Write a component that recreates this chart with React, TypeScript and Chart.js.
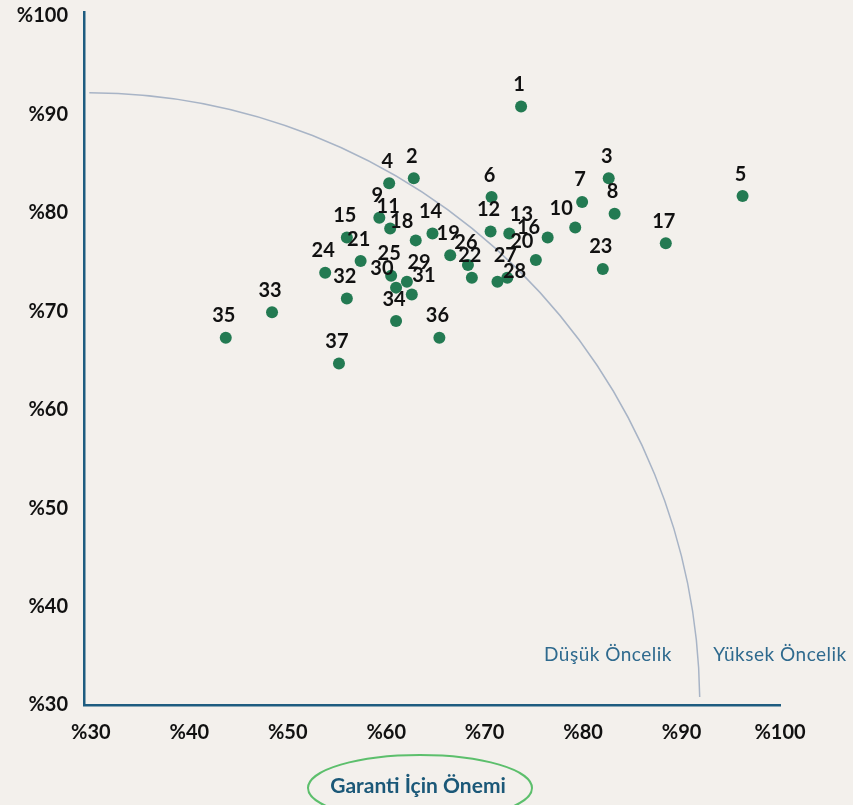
import React, { useEffect, useRef } from "react";
import { Chart, registerables } from "chart.js";

Chart.register(...registerables);

const pointLabels = [
  "1","2","3","4","5","6","7","8","9","10","11","12","13","14","15","16","17","18","19",
  "20","21","22","23","24","25","26","27","28","29","30","31","32","33","34","35","36","37",
];
const xValues = [
  73.7, 62.8, 82.6, 60.3, 96.2, 70.7, 79.9, 83.2, 59.3, 79.2, 60.4, 70.6, 72.5, 64.7, 56.0, 76.4, 88.4, 63.0, 66.5,
  75.2, 57.4, 68.7, 82.0, 53.8, 60.5, 68.3, 72.3, 71.3, 62.1, 61.0, 62.6, 56.0, 48.4, 61.0, 43.7, 65.4, 55.2,
];
const yValues = [
  90.8, 83.5, 83.5, 83.0, 81.7, 81.6, 81.1, 79.9, 79.5, 78.5, 78.4, 78.1, 77.9, 77.9, 77.5, 77.5, 76.9, 77.2, 75.7,
  75.2, 75.1, 73.4, 74.3, 73.9, 73.6, 74.7, 73.4, 73.0, 73.0, 72.4, 71.7, 71.3, 69.9, 69.0, 67.3, 67.3, 64.7,
];
const xTicks = [30, 40, 50, 60, 70, 80, 90, 100];
const yTicks = [30, 40, 50, 60, 70, 80, 90, 100];
const xTitle = "Garanti İçin Önemi";
const lowLabel = "Düşük Öncelik";
const highLabel = "Yüksek Öncelik";
const arcRadius = 62.2;

const BG = "#f3f0ec";
const AXIS = "#1e5c80";
const FONT = "Lato, 'Open Sans', sans-serif";

type Box = { x1: number; y1: number; x2: number; y2: number };
const overlap = (a: Box, b: Box) => {
  const w = Math.min(a.x2, b.x2) - Math.max(a.x1, b.x1);
  const h = Math.min(a.y2, b.y2) - Math.max(a.y1, b.y1);
  return w > 0 && h > 0 ? w * h : 0;
};

const decorPlugin = {
  id: "decor",
  beforeDraw(chart: any) {
    const ctx = chart.ctx;
    ctx.save();
    ctx.fillStyle = BG;
    ctx.fillRect(0, 0, chart.width, chart.height);
    ctx.restore();
  },
  beforeDatasetsDraw(chart: any) {
    const ctx = chart.ctx;
    const xs = chart.scales.x;
    const ys = chart.scales.y;
    const cx = xs.getPixelForValue(29.65);
    const cy = ys.getPixelForValue(30);
    const r = xs.getPixelForValue(29.65 + arcRadius) - cx;
    ctx.save();
    ctx.strokeStyle = "#a8b4c6";
    ctx.lineWidth = 1.5;
    ctx.beginPath();
    ctx.arc(cx, cy, r, -Math.PI / 2 + 0.003, -0.013);
    ctx.stroke();
    ctx.restore();
  },
  afterDatasetsDraw(chart: any) {
    const ctx = chart.ctx;
    const meta = chart.getDatasetMeta(0);
    ctx.save();
    ctx.fillStyle = "#111111";
    ctx.font = `bold 20px ${FONT}`;
    ctx.textAlign = "center";
    ctx.textBaseline = "middle";
    const pts: Box[] = meta.data.map((p: any) => ({ x1: p.x - 5, y1: p.y - 5, x2: p.x + 5, y2: p.y + 5 }));
    const placed: Box[] = [];
    meta.data.forEach((pt: any, i: number) => {
      const txt = pointLabels[i];
      const w = ctx.measureText(txt).width - 3;
      const h = 13;
      const cands = [
        [-2, -22],
        [-w / 2 - 4, -19],
        [w / 2 + 2, -19],
        [-2, -30],
        [-w / 2 - 9, -10],
        [w / 2 + 7, -10],
        [-w / 2 - 12, -2],
        [w / 2 + 10, -2],
      ];
      let best = cands[0];
      let bestScore = Infinity;
      cands.forEach(([dx, dy], k) => {
        const cx = pt.x + dx;
        const cy = pt.y + dy;
        const b = { x1: cx - w / 2, y1: cy - h / 2, x2: cx + w / 2, y2: cy + h / 2 };
        let s = k * 12;
        placed.forEach((q) => (s += overlap(b, q) * 2));
        pts.forEach((q, j) => {
          if (j !== i) s += overlap(b, q) * 0.7;
        });
        if (s < bestScore) {
          bestScore = s;
          best = [dx, dy];
        }
      });
      const cx = pt.x + best[0];
      const cy = pt.y + best[1];
      placed.push({ x1: cx - w / 2, y1: cy - h / 2, x2: cx + w / 2, y2: cy + h / 2 });
      ctx.fillText(txt, cx, cy);
    });
    ctx.restore();
  },
  afterDraw(chart: any) {
    const ctx = chart.ctx;
    ctx.save();
    ctx.font = `19px ${FONT}`;
    (ctx as any).letterSpacing = "0.5px";
    ctx.fillStyle = "#2f6a8e";
    ctx.textAlign = "center";
    ctx.textBaseline = "middle";
    ctx.fillText(lowLabel, 608, 655);
    ctx.fillText(highLabel, 780, 655);
    (ctx as any).letterSpacing = "0px";

    ctx.strokeStyle = "#5cbf6c";
    ctx.lineWidth = 2;
    ctx.beginPath();
    ctx.ellipse(420, 788, 112, 33, 0, 0, Math.PI * 2);
    ctx.stroke();

    ctx.font = `bold 21px ${FONT}`;
    ctx.fillStyle = "#1b5878";
    ctx.fillText(xTitle, 418, 786);
    ctx.restore();
  },
};

export default function App() {
  const ref = useRef<HTMLCanvasElement | null>(null);
  useEffect(() => {
    document.body.style.margin = "0";
    document.body.style.background = BG;
    if (!ref.current) return;
    const chart = new Chart(ref.current, {
      type: "scatter",
      data: {
        datasets: [
          {
            data: xValues.map((x, i) => ({ x, y: yValues[i] })),
            backgroundColor: "#237a52",
            borderWidth: 0,
            pointRadius: 6,
            pointHoverRadius: 6,
          },
        ],
      },
      options: {
        animation: false,
        responsive: false,
        maintainAspectRatio: false,
        layout: { padding: { top: 12, right: 73, left: 0, bottom: 0 } },
        plugins: { legend: { display: false }, tooltip: { enabled: false } },
        scales: {
          x: {
            type: "linear",
            min: 29.3,
            max: 100,
            afterBuildTicks: (s: any) => {
              s.ticks = xTicks.map((v) => ({ value: v }));
            },
            afterFit: (s: any) => {
              s.height = 100;
              s.paddingLeft = 0;
              s.paddingRight = 0;
            },
            grid: { display: false, drawTicks: false },
            border: { color: AXIS, width: 2.5 },
            ticks: {
              color: "#111",
              padding: 16,
              font: { family: FONT, size: 20, weight: "bold" },
              callback: (v: any) => "%" + v,
              maxRotation: 0,
            },
          },
          y: {
            type: "linear",
            min: 30,
            max: 100.4,
            afterBuildTicks: (s: any) => {
              s.ticks = yTicks.map((v) => ({ value: v }));
            },
            afterFit: (s: any) => {
              s.width = 84;
              s.paddingTop = 0;
              s.paddingBottom = 0;
            },
            grid: { display: false, drawTicks: false },
            border: { color: AXIS, width: 2.5 },
            ticks: {
              color: "#111",
              padding: 16,
              font: { family: FONT, size: 20, weight: "bold" },
              callback: (v: any) => "%" + v,
            },
          },
        },
      },
      plugins: [decorPlugin],
    } as any);
    return () => chart.destroy();
  }, []);
  return <canvas ref={ref} width={853} height={805} style={{ display: "block" }} />;
}
